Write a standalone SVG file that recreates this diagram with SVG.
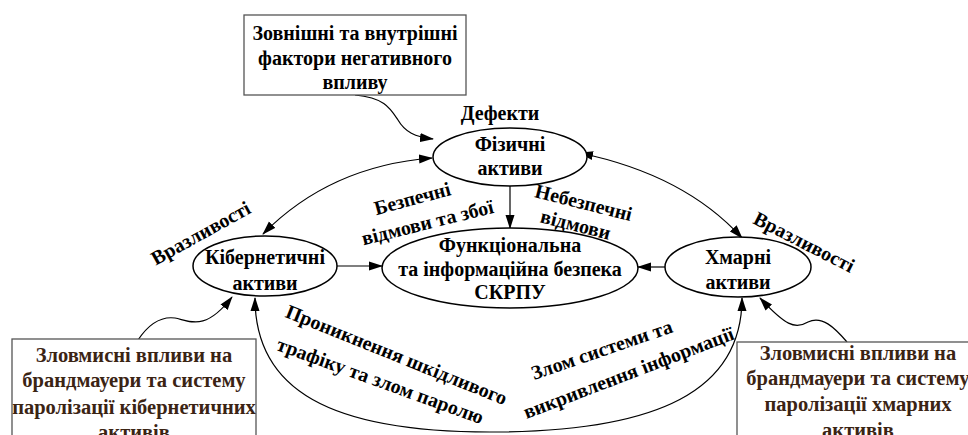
<svg xmlns="http://www.w3.org/2000/svg" width="968" height="435" viewBox="0 0 968 435">
<style>
.t{font-family:"Liberation Serif","Times New Roman",serif;font-weight:bold;font-size:20px;fill:#000;text-anchor:middle}
.b{fill:#3b2414;font-size:20.5px}
.box{fill:#fff;stroke:#555;stroke-width:1.3}
.el{fill:#fff;stroke:#000;stroke-width:1.5}
.c{fill:none;stroke:#000;stroke-width:1.2}
</style>
<defs>
<marker id="a" markerUnits="userSpaceOnUse" markerWidth="14" markerHeight="10" refX="13" refY="5" orient="auto-start-reverse">
<path d="M0,0.5 L14,5 L0,9.5 Z" fill="#000"/>
</marker>
</defs>
<g id="connectors">
<path class="c" d="M355,95 C385,98 390,108 398,120 C405,132 415,137 433,139" marker-end="url(#a)"/>
<path class="c" d="M263,234 Q330,166 432,158" marker-start="url(#a)" marker-end="url(#a)"/>
<path class="c" d="M580,153 Q685,175 742,238" marker-start="url(#a)" marker-end="url(#a)"/>
<path class="c" d="M510,186 L510,228" marker-end="url(#a)"/>
<path class="c" d="M337,266 L382,266" marker-end="url(#a)"/>
<path class="c" d="M665,267 L638,267" marker-end="url(#a)"/>
<path class="c" d="M255,298 C255,390 330,432 490,432 C660,432 742,390 742,298" marker-start="url(#a)" marker-end="url(#a)"/>
<path class="c" d="M138,340 C148,325 160,316 175,318 C190,321 205,332 232,297" marker-end="url(#a)"/>
<path class="c" d="M847,342 C835,328 822,315 808,322 C795,330 785,325 760,298" marker-end="url(#a)"/>
</g>
<g id="box-top">
<rect class="box" x="244" y="15" width="222" height="80"/>
<text class="t" x="355" y="40">Зовнішні та внутрішні</text>
<text class="t" x="355" y="65">фактори негативного</text>
<text class="t" x="355" y="89">впливу</text>
</g>
<g id="box-left">
<rect class="box" x="12" y="339" width="244" height="110"/>
<text class="t b" x="134" y="362">Зловмисні впливи на</text>
<text class="t b" x="134" y="387">брандмауери та систему</text>
<text class="t b" x="134" y="414">паролізації кібернетичних</text>
<text class="t b" x="134" y="439">активів</text>
</g>
<g id="box-right">
<rect class="box" x="737" y="342" width="244" height="110"/>
<text class="t b" x="858" y="360">Зловмисні впливи на</text>
<text class="t b" x="858" y="385">брандмауери та систему</text>
<text class="t b" x="858" y="411">паролізації хмарних</text>
<text class="t b" x="858" y="437">активів</text>
</g>
<g id="node-physical">
<ellipse class="el" cx="510" cy="157" rx="77" ry="29"/>
<text class="t" x="510" y="151">Фізичні</text>
<text class="t" x="510" y="175">активи</text>
</g>
<g id="node-functional">
<ellipse class="el" cx="510" cy="268" rx="128" ry="40"/>
<text class="t" x="510" y="252">Функціональна</text>
<text class="t" x="510" y="276">та інформаційна безпека</text>
<text class="t" x="510" y="299">СКРПУ</text>
</g>
<g id="node-cyber">
<ellipse class="el" cx="265" cy="266" rx="72" ry="30"/>
<text class="t" x="265" y="264">Кібернетичні</text>
<text class="t" x="265" y="290">активи</text>
</g>
<g id="node-cloud">
<ellipse class="el" cx="738" cy="267" rx="73" ry="30"/>
<text class="t" x="738" y="264">Хмарні</text>
<text class="t" x="738" y="289">активи</text>
</g>
<g id="labels">
<text class="t" x="500" y="120">Дефекти</text>
<text class="t" transform="translate(414,205) rotate(-15)">Безпечні</text>
<text class="t" transform="translate(429,229) rotate(-14)">відмови та збої</text>
<text class="t" transform="translate(582,209) rotate(14)">Небезпечні</text>
<text class="t" transform="translate(574,231) rotate(14)">відмови</text>
<text class="t" transform="translate(204,239) rotate(-29)">Вразливості</text>
<text class="t" transform="translate(801,248) rotate(27)">Вразливості</text>
<text class="t" transform="translate(394,361) rotate(22)">Проникнення шкідливого</text>
<text class="t" transform="translate(378,387) rotate(20)">трафіку та злом паролю</text>
<text class="t" transform="translate(604,356) rotate(-19)">Злом системи та</text>
<text class="t" transform="translate(631,379) rotate(-21)">викривлення інформації</text>
</g>
</svg>
